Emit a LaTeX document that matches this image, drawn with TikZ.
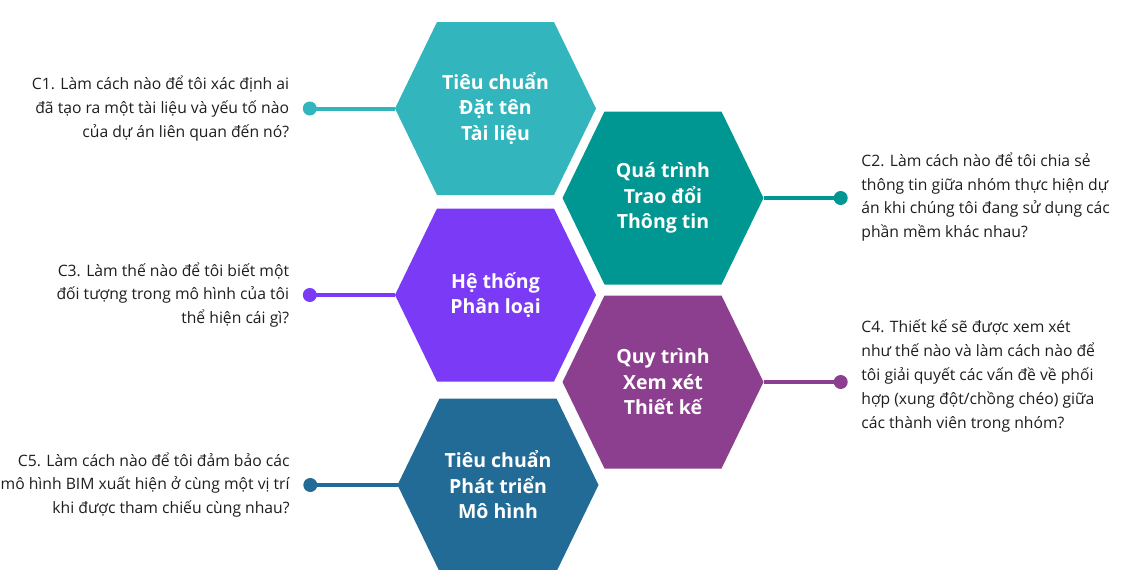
\documentclass[tikz,border=0pt]{standalone}
\usepackage{fontspec}
\setmainfont{Open Sans}
\usetikzlibrary{calc}
\usetikzlibrary{positioning}

\definecolor{hexnaming}{HTML}{32B5BC}
\definecolor{hexexchange}{HTML}{009691}
\definecolor{hexclass}{HTML}{7B3BF6}
\definecolor{hexreview}{HTML}{8C3F8E}
\definecolor{hexmodel}{HTML}{226B96}
\definecolor{qtext}{HTML}{1E1E1E}

\tikzset{
  hexlabel/.style={text=white,font=\bfseries\fontsize{19.5}{25.5}\selectfont,align=center},
  question/.style={text=qtext,font=\fontsize{15.7}{23.8}\selectfont},
  link/.style={line width=4pt},
  dot/.style={circle,inner sep=0pt,minimum size=14pt},
}

% name, centre, colour, label
\newcommand{\hexa}[4]{%
  \fill[#3] ($(#2)+(-100.5,0)$) -- ++(42,-86.5) -- ++(117,0) -- ++(42,86.5)
    -- ++(-42,86.5) -- ++(-117,0) -- cycle;
  \node[hexlabel] (#1) at (#2) {#4};
  \coordinate (#1-w) at ($(#2)+(-100.5,0)$);
  \coordinate (#1-e) at ($(#2)+(100.5,0)$);
}

\begin{document}
\begin{tikzpicture}[x=1pt,y=-1pt]

  \useasboundingbox (0,0) rectangle (1124,570);

  \hexa{naming}{495.5,108.5}{hexnaming}{Tiêu chuẩn\\Đặt tên\\Tài liệu}
  \hexa{exchange}{663,198}{hexexchange}{Quá trình\\Trao đổi\\Thông tin}
  \hexa{class}{495.5,295}{hexclass}{Hệ thống\\Phân loại}
  \hexa{review}{663,382}{hexreview}{Quy trình\\Xem xét\\Thiết kế}
  \hexa{model}{498,485}{hexmodel}{Tiêu chuẩn\\Phát triển\\Mô hình}

  \node [dot,fill=hexnaming,left=78pt of naming-w]    (dotC1) {};
  \node [dot,fill=hexexchange,right=70pt of exchange-e] (dotC2) {};
  \node [dot,fill=hexclass,left=78pt of class-w]      (dotC3) {};
  \node [dot,fill=hexreview,right=70pt of review-e]   (dotC4) {};
  \node [dot,fill=hexmodel,left=80pt of model-w]      (dotC5) {};

  \draw [link,hexnaming]   (dotC1.center) -- (naming-w);
  \draw [link,hexexchange] (exchange-e) -- (dotC2.center);
  \draw [link,hexclass]    (dotC3.center) -- (class-w);
  \draw [link,hexreview]   (review-e) -- (dotC4.center);
  \draw [link,hexmodel]    (dotC5.center) -- (model-w);

  \node [question,align=right,left=10pt of dotC1] (C1)
    {C1. Làm cách nào để tôi xác định ai\\đã tạo ra một tài liệu và yếu tố nào\\của dự án liên quan đến nó?};
  \node [question,align=right,left=10pt of dotC3] (C3)
    {C3. Làm thế nào để tôi biết một\\đối tượng trong mô hình của tôi\\thể hiện cái gì?};
  \node [question,align=right,left=10pt of dotC5] (C5)
    {C5. Làm cách nào để tôi đảm bảo các\\mô hình BIM xuất hiện ở cùng một vị trí\\khi được tham chiếu cùng nhau?};
  \node [question,align=left,right=10pt of dotC2,yshift=1pt] (C2)
    {C2. Làm cách nào để tôi chia sẻ\\thông tin giữa nhóm thực hiện dự\\án khi chúng tôi đang sử dụng các\\phần mềm khác nhau?};
  \node [question,align=left,right=10pt of dotC4,yshift=6pt] (C4)
    {C4. Thiết kế sẽ được xem xét\\như thế nào và làm cách nào để\\tôi giải quyết các vấn đề về phối\\hợp (xung đột/chồng chéo) giữa\\các thành viên trong nhóm?};

\end{tikzpicture}
\end{document}
